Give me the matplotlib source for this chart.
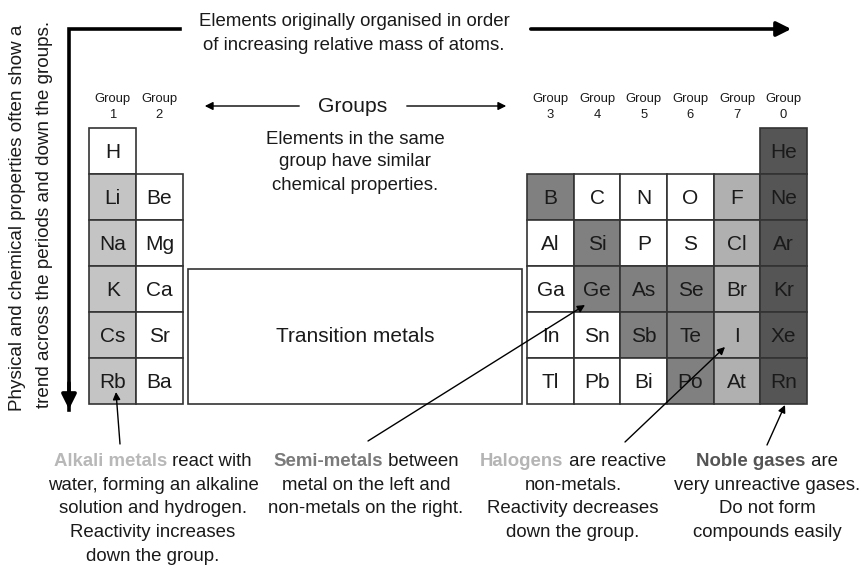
import matplotlib
matplotlib.use("Agg")
import matplotlib.pyplot as plt
from matplotlib.patches import Rectangle
from matplotlib.offsetbox import TextArea, HPacker, AnnotationBbox

plt.rcParams['font.family'] = ['Liberation Sans', 'DejaVu Sans']

# element symbols, one list per group (top to bottom)
group1 = ["H", "Li", "Na", "K", "Cs", "Rb"]
group2 = ["Be", "Mg", "Ca", "Sr", "Ba"]
group3 = ["B", "Al", "Ga", "In", "Tl"]
group4 = ["C", "Si", "Ge", "Sn", "Pb"]
group5 = ["N", "P", "As", "Sb", "Bi"]
group6 = ["O", "S", "Se", "Te", "Po"]
group7 = ["F", "Cl", "Br", "I", "At"]
group0 = ["He", "Ne", "Ar", "Kr", "Xe", "Rn"]

left_labels = ["1", "2"]
right_labels = ["3", "4", "5", "6", "7", "0"]

alkali = ["Li", "Na", "K", "Cs", "Rb"]
semi_metals = ["B", "Si", "Ge", "As", "Se", "Sb", "Te", "Po"]
halogens = group7
noble = group0

shade = {"alkali": "#c4c4c4", "semi": "#808080", "halogen": "#b0b0b0",
         "noble": "#555555", "other": "white"}


def cell_colour(sym):
    if sym in alkali:
        return shade["alkali"]
    if sym in semi_metals:
        return shade["semi"]
    if sym in halogens:
        return shade["halogen"]
    if sym in noble:
        return shade["noble"]
    return shade["other"]


fig = plt.figure(figsize=(8.62, 5.65), dpi=100)
ax = fig.add_axes([0, 0, 1, 1])
ax.set_xlim(0, 862)
ax.set_ylim(565, 0)
ax.axis("off")

cw, ch = 46.6, 46.0
top = 128
edge = "#333333"
txt = "#1a1a1a"


def draw_column(x0, syms, first_row):
    for i, s in enumerate(syms):
        y = top + (first_row + i) * ch
        ax.add_patch(Rectangle((x0, y), cw, ch, facecolor=cell_colour(s),
                               edgecolor=edge, lw=1.2))
        ax.text(x0 + cw / 2, y + ch / 2 + 1, s, ha="center", va="center",
                fontsize=15, color=txt)


left_x = 89.5
draw_column(left_x, group1, 0)
draw_column(left_x + cw, group2, 1)
for j, lab in enumerate(left_labels):
    ax.text(left_x + cw * (j + 0.5), 99, "Group", ha="center", va="center", fontsize=9.4, color=txt)
    ax.text(left_x + cw * (j + 0.5), 115, lab, ha="center", va="center", fontsize=9.4, color=txt)

right_x = 527.3
right_cols = [group3, group4, group5, group6, group7, group0]
for j, col in enumerate(right_cols):
    draw_column(right_x + j * cw, col, 0 if col is group0 else 1)
    ax.text(right_x + cw * (j + 0.5), 99, "Group", ha="center", va="center", fontsize=9.4, color=txt)
    ax.text(right_x + cw * (j + 0.5), 115, right_labels[j], ha="center", va="center", fontsize=9.4, color=txt)

# transition metals box
ax.add_patch(Rectangle((187.7, 269), 334, 135, facecolor="white", edgecolor=edge, lw=1.2))
ax.text(355, 337, "Transition metals", ha="center", va="center", fontsize=15, color=txt)

# top arrow and vertical arrow
ax.plot([69, 69, 180], [410, 29, 29], color="black", lw=2.6, solid_joinstyle="miter")
ax.annotate("", xy=(69, 412), xytext=(69, 380),
            arrowprops=dict(arrowstyle="-|>", color="black", lw=2.6, mutation_scale=22))
ax.annotate("", xy=(794, 29), xytext=(528, 29),
            arrowprops=dict(arrowstyle="-|>", color="black", lw=2.6, mutation_scale=22))
ax.text(354, 21, "Elements originally organised in order", ha="center", va="center", fontsize=13.4, color=txt)
ax.text(354, 45, "of increasing relative mass of atoms.", ha="center", va="center", fontsize=13.4, color=txt)

ax.text(18, 218, "Physical and chemical properties often show a", rotation=90,
        ha="center", va="center", fontsize=13.6, color=txt)
ax.text(45, 214, "trend across the periods and down the groups.", rotation=90,
        ha="center", va="center", fontsize=13.6, color=txt)

# groups arrow
ax.annotate("", xy=(202, 106), xytext=(302, 106),
            arrowprops=dict(arrowstyle="-|>", color="black", lw=1.0, mutation_scale=12))
ax.annotate("", xy=(509, 106), xytext=(404, 106),
            arrowprops=dict(arrowstyle="-|>", color="black", lw=1.0, mutation_scale=12))
ax.text(353, 106, "Groups", ha="center", va="center", fontsize=15.2, color=txt)
for k, line in enumerate(["Elements in the same", "group have similar", "chemical properties."]):
    ax.text(355, 139 + 23 * k, line, ha="center", va="center", fontsize=13.4, color=txt)

# pointer arrows
pointers = [((120, 444), (116, 392)), ((368, 441), (585, 305)),
            ((625, 442), (725, 347)), ((767, 445), (785, 405))]
for start, end in pointers:
    ax.annotate("", xy=end, xytext=start,
                arrowprops=dict(arrowstyle="-|>", color="black", lw=1.0, mutation_scale=11,
                                shrinkA=0, shrinkB=0))


def caption(x, head, head_colour, rest, lines):
    box = HPacker(children=[TextArea(head, textprops=dict(color=head_colour, fontsize=13.4, fontweight="bold")),
                            TextArea(rest, textprops=dict(color=txt, fontsize=13.4))],
                  pad=0, sep=0, align="baseline")
    ax.add_artist(AnnotationBbox(box, (x, 461), frameon=False, pad=0, box_alignment=(0.5, 0.5)))
    for k, line in enumerate(lines):
        ax.text(x, 485 + 23.7 * k, line, ha="center", va="center", fontsize=13.4, color=txt)


caption(153, "Alkali metals", "#b8b8b8", " react with",
        ["water, forming an alkaline", "solution and hydrogen.", "Reactivity increases", "down the group."])
caption(366, "Semi-metals", "#7a7a7a", " between",
        ["metal on the left and", "non-metals on the right."])
caption(573, "Halogens", "#b4b4b4", " are reactive",
        ["non-metals.", "Reactivity decreases", "down the group."])
caption(767, "Noble gases", "#555555", " are",
        ["very unreactive gases.", "Do not form", "compounds easily"])

fig.savefig("out.png", dpi=100, facecolor="white")
